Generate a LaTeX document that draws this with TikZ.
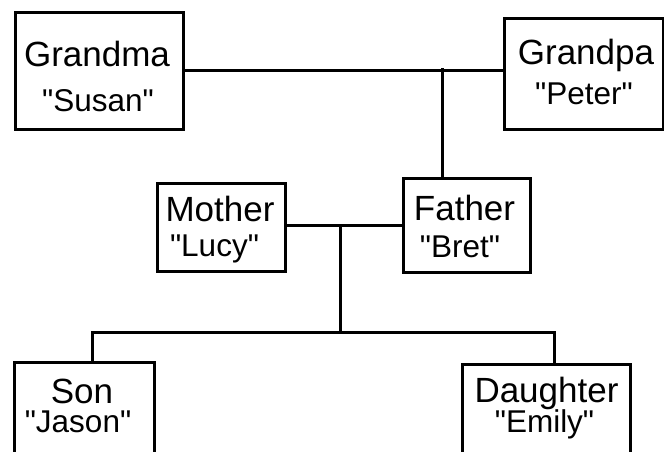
\documentclass[tikz,border=0pt]{standalone}
\usepackage{fontspec}
\setmainfont{Liberation Sans}
\newcommand\sq{\XeTeXglyph\XeTeXcharglyph"22\relax}
\begin{document}
\begin{tikzpicture}[x=1pt,y=-1pt,
  person/.style={draw=black, line width=2.8pt, rectangle, inner sep=0pt, anchor=north west},
  title/.style={anchor=base, inner sep=0pt, font=\fontsize{35}{40}\selectfont},
  nick/.style={anchor=base, inner sep=0pt, font=\fontsize{31.5}{36}\selectfont},
  wire/.style={draw=black, line width=3pt, line cap=rect}]
\useasboundingbox (0,0) rectangle (664,451);
% boxes
\node[person, minimum width=168pt, minimum height=117pt] (gma) at (14,11) {};
\node[person, minimum width=159pt, minimum height=111pt] (gpa) at (503,17) {};
\node[person, minimum width=128pt, minimum height=88pt] (mot) at (156,182) {};
\node[person, minimum width=127pt, minimum height=94pt] (fat) at (402,177) {};
\node[person, minimum width=140pt, minimum height=110pt] (son) at (13,361) {};
\node[person, minimum width=168pt, minimum height=110pt] (dau) at (461,363) {};
% texts
\node[title] (gmaT) at (97,66.7) {Grandma};
\node[nick] (gmaN) at (98,111.7) {\sq Susan\sq};
\node[title] (gpaT) at (586,64.3) {Grandpa};
\node[nick] (gpaN) at (584,104) {\sq Peter\sq};
\node[title] (motT) at (220,221.7) {Mother};
\node[nick] (motN) at (214.5,256.7) {\sq Lucy\sq};
\node[title] (fatT) at (464.5,220) {Father};
\node[nick] (fatN) at (460,257.3) {\sq Bret\sq};
\node[title] (sonT) at (82,403.3) {Son};
\node[nick] (sonN) at (78,432) {\sq Jason\sq};
\node[title] (dauT) at (546.5,402.7) {Daughter};
\node[nick] (dauN) at (544.5,432) {\sq Emily\sq};
% connectors
\coordinate (gp) at (442,69.5);
\coordinate (pp) at (340,225);
\coordinate (kids) at (340,332);
\coordinate (sl) at (92,332);
\coordinate (dl) at (554,332);
\draw[wire] (gma.east) -- (gpa.west |- gma.east);
\draw[wire] (gp) -- (gp |- fat.north);
\draw[wire] (mot.east |- pp) -- (fat.west |- pp);
\draw[wire] (pp) -- (kids);
\draw[wire] (sl |- son.north) -- (sl) -- (dl) -- (dl |- dau.north);
\end{tikzpicture}
\end{document}
